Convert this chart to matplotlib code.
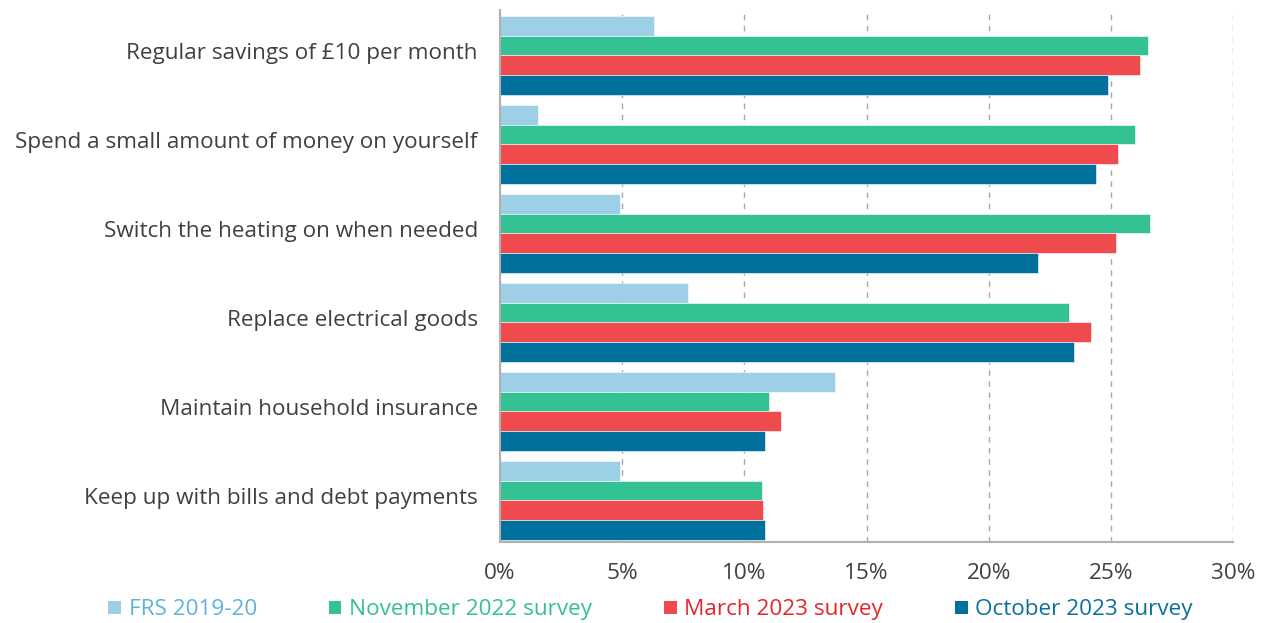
import matplotlib.pyplot as plt
import numpy as np
from matplotlib.patches import Patch
from matplotlib.transforms import ScaledTranslation

# Share of households unable to afford each item
categories = [
    "Regular savings of £10 per month",
    "Spend a small amount of money on yourself",
    "Switch the heating on when needed",
    "Replace electrical goods",
    "Maintain household insurance",
    "Keep up with bills and debt payments",
]
series_names = ["FRS 2019-20", "November 2022 survey", "March 2023 survey", "October 2023 survey"]
frs_2019 = [6.3, 1.55, 4.9, 7.7, 13.7, 4.9]
nov_2022 = [26.5, 26.0, 26.6, 23.3, 11.0, 10.7]
mar_2023 = [26.2, 25.3, 25.2, 24.2, 11.5, 10.75]
oct_2023 = [24.9, 24.4, 22.0, 23.5, 10.85, 10.85]
xticks = [0, 5, 10, 15, 20, 25, 30]

bar_colors = ["#9dd0e6", "#34c193", "#ef4b4f", "#00709c"]
text_colors = ["#5db3dc", "#34c193", "#e3262b", "#0a6f9c"]

plt.rcParams['font.family'] = ['Open Sans', 'DejaVu Sans']

fig = plt.figure(figsize=(12.66, 6.23), dpi=100)
ax = fig.add_axes([0.395, 0.130, 0.579, 0.854])

y = np.arange(len(categories))
h = 0.222
for k, vals in enumerate([frs_2019, nov_2022, mar_2023, oct_2023]):
    ax.barh(y + (k - 1.5) * h, vals, height=h, color=bar_colors[k],
            edgecolor="white", linewidth=0.4, zorder=2)

ax.set_ylim(5.467, -0.511)
ax.set_xlim(0, 30)
ax.set_xticks(xticks)
ax.set_xticklabels([f"{t}%" for t in xticks])
ax.set_yticks(y)
ax.set_yticklabels(categories)
ax.tick_params(axis="both", length=0, labelsize=16.2, colors="#404040")
ax.tick_params(axis="x", pad=15)
ax.tick_params(axis="y", pad=16)
# category labels sit slightly above the group centre
shift = ScaledTranslation(0, 3 / 72, fig.dpi_scale_trans)
for lab in ax.get_yticklabels():
    lab.set_transform(lab.get_transform() + shift)

ax.grid(axis="x", color="#a8a8a8", linestyle=(0, (4, 4)), linewidth=1, zorder=0)
for side in ["top", "right"]:
    ax.spines[side].set_visible(False)
for side in ["left", "bottom"]:
    ax.spines[side].set_color("#b0b0b0")
    ax.spines[side].set_linewidth(1.5)

handles = [Patch(facecolor=c, edgecolor="none") for c in bar_colors]
leg = fig.legend(handles, series_names, loc="center", bbox_to_anchor=(0.514, 0.021),
                 ncol=4, frameon=False, fontsize=16.2, labelcolor=text_colors,
                 handlelength=0.55, handleheight=0.55, handletextpad=0.35,
                 columnspacing=3.2)

fig.savefig("out.png", dpi=100)
